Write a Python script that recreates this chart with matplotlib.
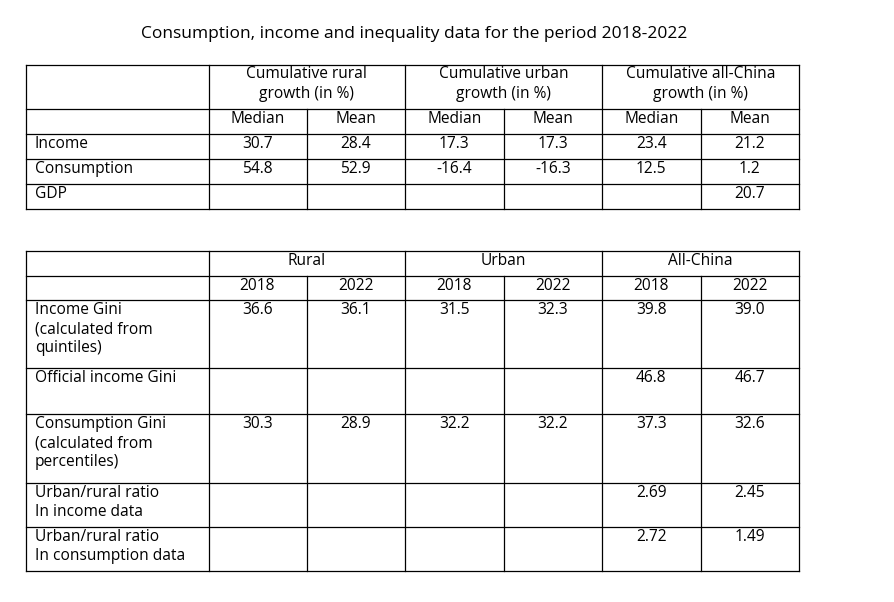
import matplotlib
matplotlib.use("Agg")
import matplotlib.pyplot as plt

#### Dados ####
titulo = "Consumption, income and inequality data for the period 2018-2022"
t1_grupos = ["Cumulative rural\ngrowth (in %)", "Cumulative urban\ngrowth (in %)", "Cumulative all-China\ngrowth (in %)"]
t1_sub = ["Median", "Mean"] * 3
t1_linhas = ["Income", "Consumption", "GDP"]
t1_valores = [
    ["30.7", "28.4", "17.3", "17.3", "23.4", "21.2"],
    ["54.8", "52.9", "-16.4", "-16.3", "12.5", "1.2"],
    ["", "", "", "", "", "20.7"],
]
t2_grupos = ["Rural", "Urban", "All-China"]
t2_sub = ["2018", "2022"] * 3
t2_linhas = ["Income Gini\n(calculated from\nquintiles)", "Official income Gini",
             "Consumption Gini\n(calculated from\npercentiles)", "Urban/rural ratio\nIn income data",
             "Urban/rural ratio\nIn consumption data"]
t2_valores = [
    ["36.6", "36.1", "31.5", "32.3", "39.8", "39.0"],
    ["", "", "", "", "46.8", "46.7"],
    ["30.3", "28.9", "32.2", "32.2", "37.3", "32.6"],
    ["", "", "", "", "2.69", "2.45"],
    ["", "", "", "", "2.72", "1.49"],
]

#### Layout (pixels) ####
colx = [26, 208.5, 306.5, 405, 503.5, 602, 700.5, 799]
t1_y = [64.5, 109, 134, 159, 184, 209]
t2_y = [251, 276, 300, 368, 414, 483, 527, 571]
FONT = "Open Sans"
FS = 11.2

fig = plt.figure(figsize=(8.94, 6.02), dpi=100)
ax = fig.add_axes([0, 0, 1, 1])
ax.set_xlim(0, 894)
ax.set_ylim(602, 0)
ax.axis("off")

def grade(ys):
    for y in ys:
        ax.plot([colx[0], colx[-1]], [y, y], color="black", lw=0.9)
    for i, x in enumerate(colx):
        if i in (2, 4, 6):
            ax.plot([x, x], [ys[1], ys[-1]], color="black", lw=0.9)
        else:
            ax.plot([x, x], [ys[0], ys[-1]], color="black", lw=0.9)

def txt(x, y, s, ha="center"):
    ax.text(x, y, s, ha=ha, va="top", fontsize=FS, family=FONT, linespacing=1.25)

def tabela(ys, grupos, sub, linhas, valores):
    grade(ys)
    for g, nome in enumerate(grupos):
        xc = (colx[1 + 2 * g] + colx[3 + 2 * g]) / 2
        txt(xc, ys[0] + 2, nome)
    for j, s in enumerate(sub):
        txt((colx[1 + j] + colx[2 + j]) / 2, ys[1] + 2, s)
    for i, nome in enumerate(linhas):
        txt(colx[0] + 9, ys[2 + i] + 2, nome, ha="left")
        for j, v in enumerate(valores[i]):
            txt((colx[1 + j] + colx[2 + j]) / 2, ys[2 + i] + 2, v)

tabela(t1_y, t1_grupos, t1_sub, t1_linhas, t1_valores)
tabela(t2_y, t2_grupos, t2_sub, t2_linhas, t2_valores)

ax.text(414, 34, titulo, ha="center", va="center", fontsize=12.5, family=FONT)

fig.savefig("out.png", dpi=100, facecolor="white")
